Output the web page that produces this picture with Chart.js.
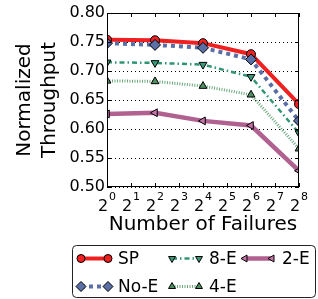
<!DOCTYPE html>
<html lang="en">
<head>
  <meta charset="UTF-8">
  <title>Normalized Throughput</title>
  <script src="https://cdn.jsdelivr.net/npm/chart.js"></script>
  <style>
    html, body { margin: 0; padding: 0; background: #fff; }
    #wrap { width: 318px; height: 299px; }
  </style>
</head>
<body>
<div id="wrap"><canvas id="chart" width="318" height="299"></canvas></div>
<script>
  // x values are exponents of 2 (number of failures = 2^x)
  const failureExps = [0, 2, 4, 6, 8];
  const tickExps = [0, 1, 2, 3, 4, 5, 6, 7, 8];
  const yTicks = [0.50, 0.55, 0.60, 0.65, 0.70, 0.75, 0.80];

  const spValues = [0.754, 0.753, 0.748, 0.729, 0.643];
  const noEValues = [0.748, 0.745, 0.740, 0.720, 0.614];
  const e8Values = [0.715, 0.714, 0.711, 0.690, 0.593];
  const e4Values = [0.683, 0.682, 0.674, 0.659, 0.566];
  const e2Values = [0.626, 0.628, 0.614, 0.606, 0.528];

  const FONT = 'DejaVu Sans';

  function pts(vals) {
    return vals.map((v, i) => ({ x: failureExps[i], y: v }));
  }

  function series(label, vals, color, fill, dash, width, style, rot) {
    return {
      label: label,
      data: pts(vals),
      borderColor: color,
      borderWidth: width,
      borderDash: dash,
      pointStyle: style,
      rotation: rot,
      pointRadius: style === 'rectRot' ? 5.5 : 4.5,
      pointBackgroundColor: fill,
      pointBorderColor: '#000',
      pointBorderWidth: 1,
      tension: 0,
      clip: 0
    };
  }

  const datasets = [
    series('2-E', e2Values, '#b0618f', '#c474a6', [], 4.5, 'triangle', -90),
    series('4-E', e4Values, '#6aa77c', '#4f8f62', [1, 1.5], 3, 'triangle', 0),
    series('8-E', e8Values, '#2e9673', '#3a9a78', [5, 3, 1.5, 3], 2.5, 'triangle', 180),
    series('No-E', noEValues, '#5a6fa6', '#5a6fa6', [4, 4], 4, 'rectRot', 0),
    series('SP', spValues, '#ee2020', '#ee2020', [], 4, 'circle', 0)
  ];

  // legend layout like the reference (columns: SP/No-E, 8-E/4-E, 2-E)
  const legendItems = [
    { label: 'SP', col: 0, row: 0 },
    { label: 'No-E', col: 0, row: 1 },
    { label: '8-E', col: 1, row: 0 },
    { label: '4-E', col: 1, row: 1 },
    { label: '2-E', col: 2, row: 0 }
  ];

  const framePlugin = {
    id: 'frame',
    afterDraw(chart) {
      const ctx = chart.ctx;
      const a = chart.chartArea;
      const xs = chart.scales.x, ys = chart.scales.y;
      ctx.save();
      ctx.strokeStyle = '#000';
      ctx.lineWidth = 1;
      ctx.setLineDash([]);
      ctx.strokeRect(a.left + 0.5, a.top + 0.5, a.right - a.left - 1, a.bottom - a.top - 1);
      ctx.beginPath();
      tickExps.forEach(e => {
        const px = Math.round(xs.getPixelForValue(e)) + 0.5;
        ctx.moveTo(px, a.bottom); ctx.lineTo(px, a.bottom - 4);
        ctx.moveTo(px, a.top); ctx.lineTo(px, a.top + 4);
      });
      yTicks.forEach(v => {
        const py = Math.round(ys.getPixelForValue(v)) + 0.5;
        ctx.moveTo(a.left, py); ctx.lineTo(a.left + 4, py);
        ctx.moveTo(a.right, py); ctx.lineTo(a.right - 4, py);
      });
      ctx.stroke();

      // x tick labels as 2 with a raised exponent
      ctx.fillStyle = '#000';
      ctx.textBaseline = 'alphabetic';
      ctx.textAlign = 'left';
      tickExps.forEach(e => {
        const px = xs.getPixelForValue(e);
        ctx.font = '16px "' + FONT + '"';
        const wb = ctx.measureText('2').width;
        ctx.font = '11px "' + FONT + '"';
        const we = ctx.measureText(String(e)).width;
        const x0 = px - (wb + we + 1) / 2;
        ctx.font = '16px "' + FONT + '"';
        ctx.fillText('2', x0, a.bottom + 24);
        ctx.font = '11px "' + FONT + '"';
        ctx.fillText(String(e), x0 + wb + 1, a.bottom + 13);
      });

      // legend box
      const bx = 72.5, by = 245.5, bw = 243, bh = 52, r = 4;
      ctx.beginPath();
      ctx.moveTo(bx + r, by);
      ctx.arcTo(bx + bw, by, bx + bw, by + bh, r);
      ctx.arcTo(bx + bw, by + bh, bx, by + bh, r);
      ctx.arcTo(bx, by + bh, bx, by, r);
      ctx.arcTo(bx, by, bx + bw, by, r);
      ctx.closePath();
      ctx.fillStyle = '#fff';
      ctx.fill();
      ctx.strokeStyle = '#222';
      ctx.stroke();

      const colX = [81, 172, 245];
      const rowY = [258.5, 286.5];
      const handle = 27;
      ctx.textBaseline = 'middle';
      legendItems.forEach(item => {
        const ds = datasets.find(d => d.label === item.label);
        const x0 = colX[item.col], y = rowY[item.row];
        ctx.save();
        ctx.strokeStyle = ds.borderColor;
        ctx.lineWidth = ds.borderWidth;
        ctx.setLineDash(ds.borderDash);
        ctx.beginPath();
        ctx.moveTo(x0, y); ctx.lineTo(x0 + handle, y);
        ctx.stroke();
        ctx.restore();
        [x0, x0 + handle].forEach(px => {
          ctx.save();
          ctx.fillStyle = ds.pointBackgroundColor;
          ctx.strokeStyle = '#000';
          ctx.lineWidth = 1;
          Chart.helpers.drawPoint(ctx, {
            pointStyle: ds.pointStyle,
            rotation: ds.rotation,
            radius: ds.pointStyle === 'rectRot' ? 5 : 4,
            borderWidth: 1
          }, px, y);
          ctx.restore();
        });
        ctx.fillStyle = '#000';
        ctx.font = '17px "' + FONT + '"';
        ctx.fillText(item.label, x0 + handle + 10, y + 1);
      });
      ctx.restore();
    }
  };

  const ctx = document.getElementById('chart').getContext('2d');
  Chart.defaults.font.family = FONT;
  Chart.defaults.color = '#000';

  new Chart(ctx, {
    type: 'line',
    data: { datasets: datasets },
    options: {
      responsive: false,
      animation: false,
      layout: { padding: { top: 13, right: 19, bottom: 62, left: 0 } },
      plugins: { legend: { display: false }, tooltip: { enabled: false } },
      scales: {
        x: {
          type: 'linear',
          min: 0,
          max: 8,
          afterFit(scale) { scale.height = 50; },
          afterBuildTicks(scale) { scale.ticks = tickExps.map(v => ({ value: v })); },
          grid: { display: false, drawTicks: false },
          border: { display: false },
          ticks: { display: false },
          title: {
            display: true,
            text: 'Number of Failures',
            font: { size: 20 },
            padding: { top: 0, bottom: 0 }
          }
        },
        y: {
          min: 0.50,
          max: 0.80,
          afterFit(scale) { scale.width = 107; },
          afterBuildTicks(scale) { scale.ticks = yTicks.map(v => ({ value: v })); },
          grid: { color: '#000', lineWidth: 1, drawTicks: false },
          border: { display: false, dash: [1, 3] },
          ticks: {
            padding: 2,
            font: { size: 16 },
            callback: v => v.toFixed(2)
          },
          title: {
            display: true,
            text: ['Normalized', 'Throughput'],
            font: { size: 20, lineHeight: 1.25 },
            padding: { top: 12, bottom: 0 }
          }
        }
      }
    },
    plugins: [framePlugin]
  });
</script>
</body>
</html>
